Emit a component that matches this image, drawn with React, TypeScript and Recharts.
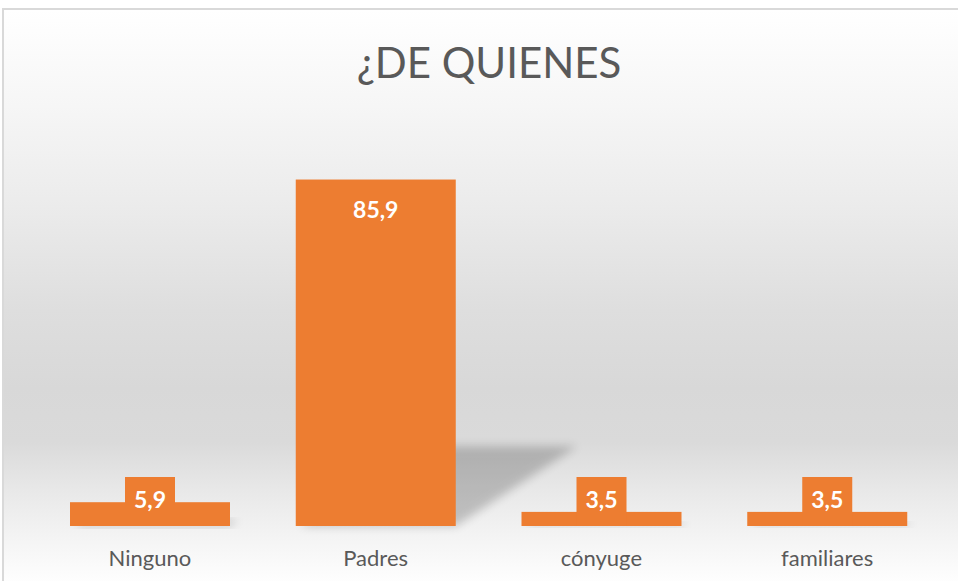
import { BarChart, Bar, XAxis, YAxis, LabelList } from 'recharts'

const categories = ['Ninguno', 'Padres', 'cónyuge', 'familiares']
const values = [5.9, 85.9, 3.5, 3.5]
const title = '¿DE QUIENES'

const data = categories.map((name, i) => ({ name, value: values[i] }))

const ORANGE = '#ed7d31'
const FONT = 'Lato, "Open Sans", sans-serif'

const fmt = (v: number) => v.toFixed(1).replace('.', ',')

// bar with a soft perspective shadow behind it
const ShadowBar = (props: any) => {
  const { x, y, width, height, fill } = props
  const base = y + height
  const h = height * 0.23
  const dx = height * 0.35
  const pts = [
    [x + 4, base],
    [x + width, base],
    [x + width + dx, base - h],
    [x + dx + 4, base - h],
  ]
    .map((p) => p.join(','))
    .join(' ')
  return (
    <g>
      <polygon points={pts} fill="#000" opacity={0.2} filter="url(#shadowBlur)" />
      <rect x={x} y={y} width={width} height={height} fill={fill} />
    </g>
  )
}

const ValueLabel = (props: any) => {
  const { x, y, width, height, value } = props
  const cx = x + width / 2
  const base = y + height
  const text = fmt(value)
  if (height < 40) {
    return (
      <g>
        <rect x={cx - 25} y={base - 49} width={50} height={49} fill={ORANGE} />
        <text
          x={cx}
          y={base - 27}
          fill="#fff"
          fontFamily={FONT}
          fontWeight="bold"
          fontSize={23}
          textAnchor="middle"
          dominantBaseline="central"
        >
          {text}
        </text>
      </g>
    )
  }
  return (
    <text
      x={cx}
      y={y + 29}
      fill="#fff"
      fontFamily={FONT}
      fontWeight="bold"
      fontSize={23}
      textAnchor="middle"
      dominantBaseline="central"
    >
      {text}
    </text>
  )
}

export default function App() {
  return (
    <div
      style={{
        position: 'absolute',
        left: 0,
        top: 0,
        width: 958,
        height: 581,
        overflow: 'hidden',
        background: '#fff',
      }}
    >
      <div
        style={{
          position: 'absolute',
          left: 2,
          top: 8,
          width: 980,
          height: 600,
          border: '2px solid #d9d9d9',
          background:
            'linear-gradient(to bottom, #ffffff 0%, #f6f6f6 16%, #ebebeb 33%, #dedede 50%, #d8d8d8 63%, #dadada 72%, #e8e8e8 80%, #f4f4f4 88%, #ffffff 96%)',
        }}
      />
      <div
        style={{
          position: 'absolute',
          left: 0,
          width: 978,
          top: 35,
          textAlign: 'center',
          fontFamily: FONT,
          fontSize: 42,
          color: '#595959',
          lineHeight: '54px',
        }}
      >
        {title}
      </div>
      <div style={{ position: 'absolute', left: 0, top: 0 }}>
        <BarChart
          width={958}
          height={581}
          data={data}
          margin={{ top: 163, right: 18, bottom: 0, left: 37 }}
          barSize={160}
        >
          <defs>
            <filter id="shadowBlur" x="-20%" y="-50%" width="140%" height="200%">
              <feGaussianBlur stdDeviation="5" />
            </filter>
          </defs>
          <XAxis
            dataKey="name"
            axisLine={false}
            tickLine={false}
            height={55}
            tickMargin={18}
            tick={{ fill: '#595959', fontSize: 22, fontFamily: FONT }}
          />
          <YAxis hide domain={[0, 90]} />
          <Bar dataKey="value" fill={ORANGE} shape={ShadowBar} isAnimationActive={false}>
            <LabelList dataKey="value" content={ValueLabel} />
          </Bar>
        </BarChart>
      </div>
    </div>
  )
}
